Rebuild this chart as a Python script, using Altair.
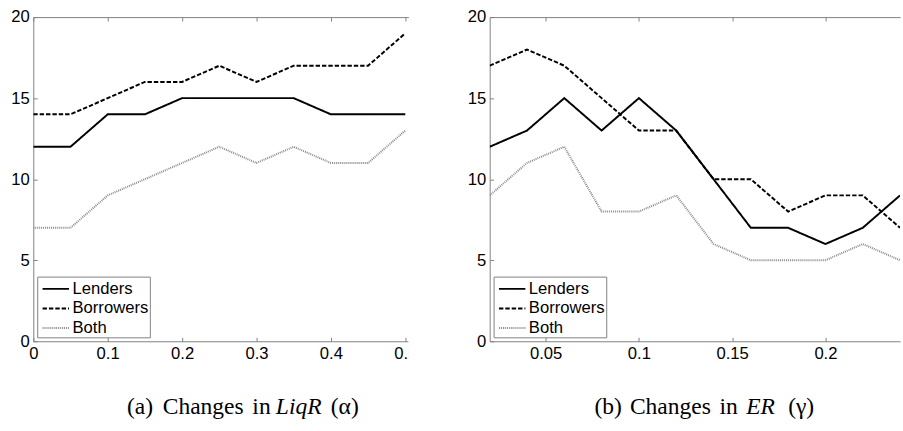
import altair as alt
import pandas as pd

SERIES = ["Lenders", "Borrowers", "Both"]

# Panel (a): changes in the liquidity ratio alpha
liq_alpha = [0.0, 0.05, 0.1, 0.15, 0.2, 0.25, 0.3, 0.35, 0.4, 0.45, 0.5]
liq_lenders = [12, 12, 14, 14, 15, 15, 15, 15, 14, 14, 14]
liq_borrowers = [14, 14, 15, 16, 16, 17, 16, 17, 17, 17, 19]
liq_both = [7, 7, 9, 10, 11, 12, 11, 12, 11, 11, 13]
liq_ticks = [0, 0.1, 0.2, 0.3, 0.4, 0.5]

# Panel (b): changes in the equity ratio gamma
er_gamma = [0.02, 0.04, 0.06, 0.08, 0.10, 0.12, 0.14, 0.16, 0.18, 0.20, 0.22, 0.24]
er_lenders = [12, 13, 15, 13, 15, 13, 10, 7, 7, 6, 7, 9]
er_borrowers = [17, 18, 17, 15, 13, 13, 10, 10, 8, 9, 9, 7]
er_both = [9, 11, 12, 8, 8, 9, 6, 5, 5, 5, 6, 5]
er_ticks = [0.05, 0.1, 0.15, 0.2]

y_ticks = [0, 5, 10, 15, 20]

AXIS_GRAY = "#808080"
SANS = "Liberation Sans"
SERIF = "Liberation Serif"
H = 331


def long_frame(xs, lenders, borrowers, both):
    rows = []
    for name, vals in zip(SERIES, (lenders, borrowers, both)):
        for x, v in zip(xs, vals):
            rows.append({"x": x, "count": v, "series": name})
    return pd.DataFrame(rows)


def caption(words, italic):
    """Caption placed word by word below the plot area."""
    layers = []
    for (text, cx), it in zip(words, italic):
        layers.append(
            alt.Chart(alt.InlineData(values=[{}]))
            .mark_text(font=SERIF, fontSize=24, fontStyle="italic" if it else "normal",
                       align="center", baseline="alphabetic", color="black")
            .encode(x=alt.value(cx), y=alt.value(405), text=alt.value(text))
        )
    return layers


def panel(df, width, domain, ticks, words, italic, mask=False):
    x_scale = alt.Scale(domain=domain, nice=False, zero=False)
    y_scale = alt.Scale(domain=[0, 20], nice=False)
    legend = alt.Legend(
        title=None, orient="bottom-left", offset=4, padding=1,
        strokeColor=AXIS_GRAY, fillColor="white", cornerRadius=0,
        labelFont=SANS, labelFontSize=17, labelColor="black",
        symbolType="M-0.67,0H1.9", symbolSize=441, labelOffset=12,
        rowPadding=0,
    )
    base = alt.Chart(df)
    lines = base.mark_line(clip=True).encode(
        x=alt.X("x:Q", scale=x_scale, axis=alt.Axis(
            values=ticks, format="~g", title=None, ticks=False, grid=False,
            domainColor=AXIS_GRAY, labelFont=SANS, labelFontSize=17,
            labelColor="black", labelPadding=5, labelFlush=False,
            labelOverlap=False)),
        y=alt.Y("count:Q", scale=y_scale, axis=alt.Axis(
            values=y_ticks, title=None, ticks=False, grid=False,
            domainColor=AXIS_GRAY, labelFont=SANS, labelFontSize=17,
            labelColor="black", labelPadding=4, labelFlush=False)),
        color=alt.Color("series:N", scale=alt.Scale(
            domain=SERIES, range=["black", "black", "#8a8a8a"]), legend=legend),
        strokeDash=alt.StrokeDash("series:N", scale=alt.Scale(
            domain=SERIES, range=[[1, 0], [4.5, 2], [1, 1]]), legend=legend),
        strokeWidth=alt.StrokeWidth("series:N", scale=alt.Scale(
            domain=SERIES, range=[2, 2, 1.5]), legend=legend),
    )
    # inward ticks along the top border and the left edge
    top_ticks = base.mark_point(opacity=0).encode(
        x=alt.X("x:Q", scale=x_scale, axis=alt.Axis(
            orient="bottom", offset=-H, values=ticks, labels=False, title=None,
            grid=False, tickSize=4, tickColor=AXIS_GRAY, domainColor=AXIS_GRAY)),
        y=alt.Y("count:Q", scale=y_scale, axis=alt.Axis(
            orient="right", offset=-width, values=y_ticks, labels=False,
            title=None, grid=False, tickSize=4, tickColor=AXIS_GRAY, domain=False)),
    )
    # inward ticks along the bottom edge
    bottom_ticks = base.mark_point(opacity=0).encode(
        x=alt.X("x:Q", scale=x_scale, axis=alt.Axis(
            orient="top", offset=-H, values=ticks, labels=False, title=None,
            grid=False, tickSize=4, tickColor=AXIS_GRAY, domain=False)),
        y=alt.Y("count:Q", scale=y_scale, axis=None),
    )
    layers = [lines, top_ticks, bottom_ticks] + caption(words, italic)
    if mask:
        # the subfigure is cropped just past the right end of the axis
        layers.append(
            alt.Chart(alt.InlineData(values=[{}]))
            .mark_rect(color="white")
            .encode(x=alt.value(width), x2=alt.value(width + 17),
                    y=alt.value(H - 6), y2=alt.value(H + 30))
        )
    return (
        alt.layer(*layers)
        .resolve_axis(x="independent", y="independent")
        .properties(width=width, height=H)
    )


left = panel(
    long_frame(liq_alpha, liq_lenders, liq_borrowers, liq_both),
    383, [0, 0.5042], liq_ticks,
    [("(a)", 109), ("Changes", 173.5), ("in", 233), ("LiqR", 271), ("(α)", 318)],
    [False, False, False, True, False],
    mask=True,
)
right = panel(
    long_frame(er_gamma, er_lenders, er_borrowers, er_both),
    419, [0.02, 0.24], er_ticks,
    [("(b)", 121), ("Changes", 184.5), ("in", 244), ("ER", 276.5), ("(γ)", 318)],
    [False, False, False, True, False],
)

chart = (
    alt.hconcat(left, right, spacing=43)
    .resolve_scale(x="independent", y="independent", color="independent",
                   strokeDash="independent", strokeWidth="independent")
    .resolve_legend(color="independent", strokeDash="independent",
                    strokeWidth="independent")
    .configure_view(stroke=None)
    .properties(padding={"left": 11, "top": 4, "right": 0, "bottom": 0},
                background="white")
)

chart.save("out.html", embed_options={"renderer": "svg", "actions": False})
